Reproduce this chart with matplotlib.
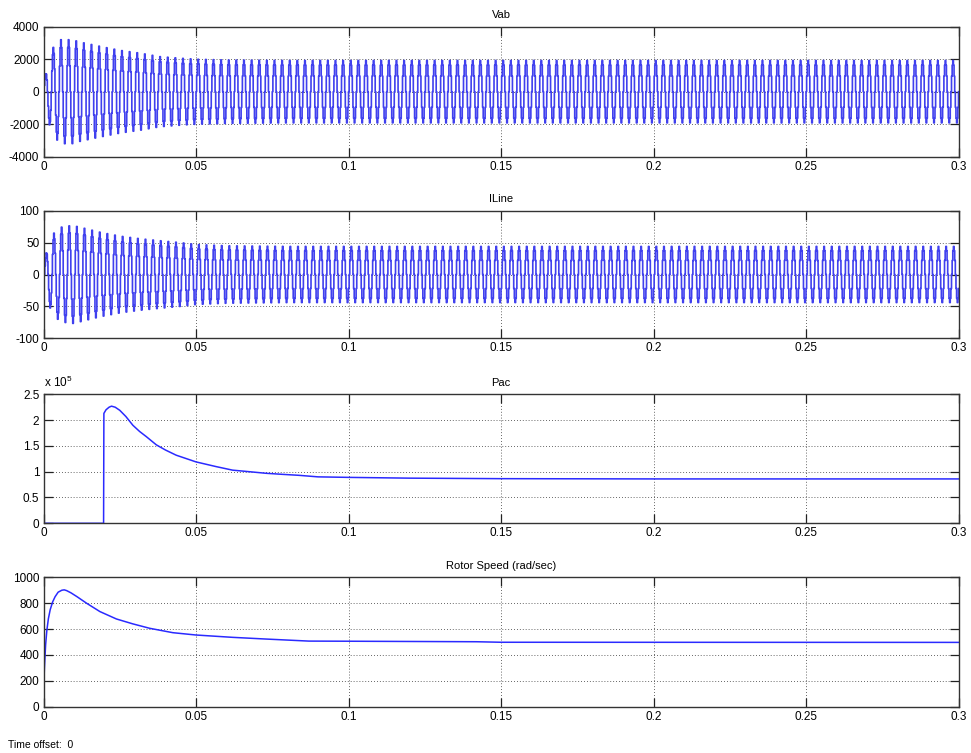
import numpy as np
import matplotlib
matplotlib.use("Agg")
import matplotlib.pyplot as plt
from matplotlib.ticker import FixedLocator

plt.rcParams['font.family'] = ['Liberation Sans', 'DejaVu Sans']
plt.rcParams['mathtext.fontset'] = 'custom'
plt.rcParams['mathtext.rm'] = 'Liberation Sans'

# ---------------- data ----------------
T_END = 0.3
FREQ_HZ = 400.0                      # ~20 cycles per 0.05 s
STEP_PATTERN = [0.0, 0.5, 0.85, 1.0, 0.85, 0.5, 0.0, -0.5, -0.85, -1.0, -0.85, -0.5]

# Vab envelope (peak amplitude, V)
vab_env_t = [0.0, 0.0015, 0.0029, 0.0055, 0.0093, 0.012, 0.0187, 0.0252, 0.0317,
             0.038, 0.0448, 0.05, 0.06, 0.08, 0.3]
vab_env_a = [600, 1800, 2680, 3200, 3200, 3050, 2780, 2540, 2370,
             2160, 2060, 2000, 1950, 1920, 1920]

# ILine envelope (peak amplitude, A)
il_env_t = [0.0, 0.0015, 0.0029, 0.0055, 0.0093, 0.012, 0.0187, 0.0252, 0.0317,
            0.038, 0.0448, 0.05, 0.06, 0.08, 0.3]
il_env_a = [20, 45, 63, 74, 77, 74, 66, 60, 56,
            53, 50, 47, 45, 44, 44]
IL_PHASE_STEPS = 1

# Pac (W)
pac_t = [0.0, 0.0197, 0.0198, 0.0205, 0.0215, 0.0223, 0.0235, 0.025, 0.027, 0.0293,
         0.0315, 0.0337, 0.037, 0.040, 0.0435, 0.047, 0.05, 0.0565, 0.062, 0.0675,
         0.0728, 0.078, 0.0837, 0.09, 0.1, 0.12, 0.15, 0.2, 0.3]
pac_v = [0.0, 0.0, 2.13e5, 2.20e5, 2.25e5, 2.27e5, 2.25e5, 2.19e5, 2.07e5, 1.90e5,
         1.78e5, 1.68e5, 1.52e5, 1.42e5, 1.32e5, 1.25e5, 1.19e5, 1.10e5, 1.03e5, 1.00e5,
         0.97e5, 0.95e5, 0.93e5, 0.90e5, 0.89e5, 0.875e5, 0.865e5, 0.86e5, 0.86e5]

# Rotor speed (rad/s)
rs_t = [0.0, 0.0003, 0.0007, 0.0011, 0.0016, 0.0022, 0.003, 0.0038, 0.0048, 0.006,
        0.0068, 0.0076, 0.009, 0.011, 0.0141, 0.0185, 0.0239, 0.0293, 0.0348, 0.0424,
        0.05, 0.062, 0.0728, 0.087, 0.1, 0.142, 0.15, 0.3]
rs_v = [100, 300, 480, 590, 680, 750, 810, 850, 885, 900,
        903, 897, 880, 850, 800, 735, 678, 640, 606, 572,
        554, 536, 523, 507, 506, 502, 498, 497]

titles = ['Vab', 'ILine', 'Pac', 'Rotor Speed (rad/sec)']
xticks = [0, 0.05, 0.1, 0.15, 0.2, 0.25, 0.3]
xticklabels = ['0', '0.05', '0.1', '0.15', '0.2', '0.25', '0.3']
yticks = [[-4000, -2000, 0, 2000, 4000],
          [-100, -50, 0, 50, 100],
          [0, 0.5e5, 1e5, 1.5e5, 2e5, 2.5e5],
          [0, 200, 400, 600, 800, 1000]]
yticklabels = [['-4000', '-2000', '0', '2000', '4000'],
               ['-100', '-50', '0', '50', '100'],
               ['0', '0.5', '1', '1.5', '2', '2.5'],
               ['0', '200', '400', '600', '800', '1000']]

# ---------------- build stepped waveforms ----------------
n_steps = len(STEP_PATTERN)
dt = 1.0 / (FREQ_HZ * n_steps)
k = np.arange(int(round(T_END / dt)) + 1)
t_steps = k * dt
pattern = np.array(STEP_PATTERN)
vab = pattern[k % n_steps] * np.interp(t_steps, vab_env_t, vab_env_a)
il = pattern[(k - IL_PHASE_STEPS) % n_steps] * np.interp(t_steps, il_env_t, il_env_a)

# ---------------- figure ----------------
fig = plt.figure(figsize=(9.71, 7.53), dpi=100)
W, H = 971.0, 753.0
boxes = [(26.7, 156.7), (210.7, 338.3), (394.3, 523.3), (577.3, 706.7)]
x0, x1 = 43.5, 958.5

axes = []
for (top, bot) in boxes:
    ax = fig.add_axes([x0 / W, 1 - bot / H, (x1 - x0) / W, (bot - top) / H])
    axes.append(ax)

wave_blue = '#4040ee'
blue = '#2a2aff'
axes[0].plot(t_steps, vab, drawstyle='steps-post', color=wave_blue, lw=1.2)
axes[1].plot(t_steps, il, drawstyle='steps-post', color=wave_blue, lw=1.2)
axes[2].plot(pac_t, pac_v, color=blue, lw=1.1)
axes[3].plot(rs_t, rs_v, color=blue, lw=1.1)

for i, ax in enumerate(axes):
    ax.set_xlim(0, T_END)
    ax.set_ylim(yticks[i][0], yticks[i][-1])
    ax.xaxis.set_major_locator(FixedLocator(xticks))
    ax.set_xticklabels(xticklabels)
    ax.yaxis.set_major_locator(FixedLocator(yticks[i]))
    ax.set_yticklabels(yticklabels[i])
    ax.tick_params(direction='in', length=6.5, width=0.9, top=True, right=True,
                   labelsize=8.5, colors='black', pad=3)
    ax.tick_params(colors='#222222', labelcolor='black')
    ax.grid(True, linestyle=(0, (1, 2.5)), color='#333333', linewidth=0.6)
    for s in ax.spines.values():
        s.set_color('#333333')
        s.set_linewidth(1.0)
    ax.set_title(titles[i], fontsize=8, pad=6)

axes[2].text(0.0, 1.03, r'x 10$^{5}$', transform=axes[2].transAxes,
             fontsize=8.5, ha='left', va='bottom')

fig.text(8 / W, 1 - 745 / H, 'Time offset:  0', fontsize=7.5, ha='left', va='center')

fig.savefig('out.png', dpi=100, facecolor='white')
